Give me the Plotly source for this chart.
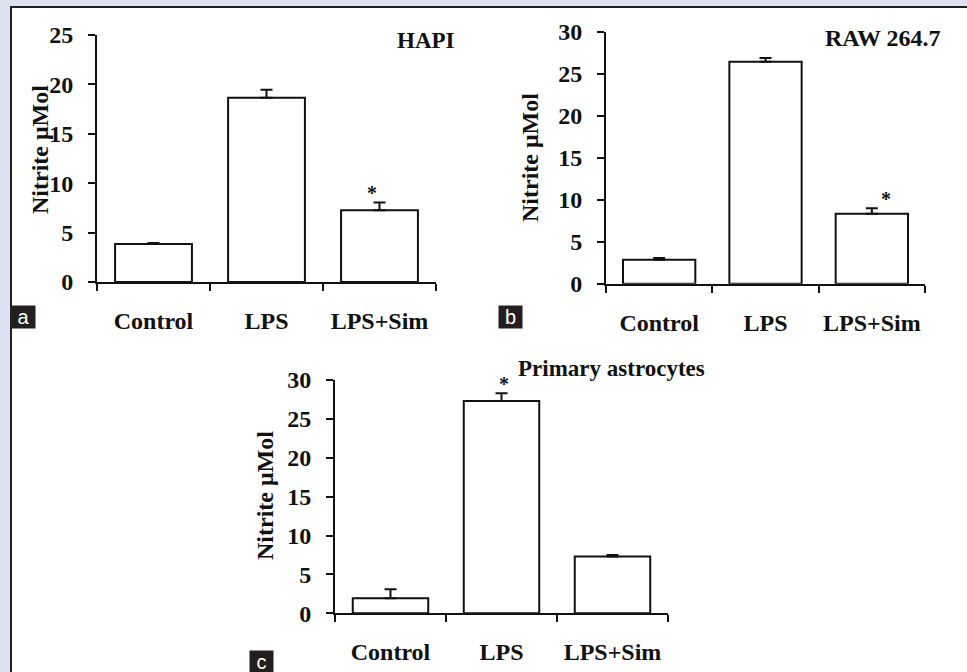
import plotly.graph_objects as go

W, H = 967, 672

categories = ["Control", "LPS", "LPS+Sim"]

hapi_values = [3.85, 18.65, 7.25]
hapi_errors = [0.1, 0.8, 0.8]
raw_values = [2.85, 26.45, 8.35]
raw_errors = [0.2, 0.45, 0.65]
astro_values = [1.95, 27.3, 7.3]
astro_errors = [1.15, 1.0, 0.2]

hapi_ticks = [0, 5, 10, 15, 20, 25]
raw_ticks = [0, 5, 10, 15, 20, 25, 30]
astro_ticks = [0, 5, 10, 15, 20, 25, 30]

panel_titles = ["HAPI", "RAW 264.7", "Primary astrocytes"]
panel_letters = ["a", "b", "c"]
star_index = [2, 2, 1]
y_title = "Nitrite μMol"

SERIF = "Liberation Serif"
INK = "#111111"


def px_x(p):
    return p / W


def px_y(p):
    return 1 - p / H


panels = [
    dict(values=hapi_values, errors=hapi_errors, ticks=hapi_ticks,
         xdom=[px_x(97), px_x(436)], ydom=[px_y(282), px_y(35)],
         title_pos=(457, 40, "right", 23), ytitle_pos=(40, 150),
         letter_pos=(11, 305), star_shift=-8),
    dict(values=raw_values, errors=raw_errors, ticks=raw_ticks,
         xdom=[px_x(606), px_x(925)], ydom=[px_y(283.7), px_y(32)],
         title_pos=(943, 38, "right", 24), ytitle_pos=(530, 158),
         letter_pos=(498, 305), star_shift=14),
    dict(values=astro_values, errors=astro_errors, ticks=astro_ticks,
         xdom=[px_x(335), px_x(668)], ydom=[px_y(613.3), px_y(380)],
         title_pos=(516, 368, "left", 23), ytitle_pos=(265, 496),
         letter_pos=(249, 650), star_shift=2),
]

fig = go.Figure()
annotations = []
shapes = []

for i, p in enumerate(panels):
    n = "" if i == 0 else str(i + 1)
    xa, ya = "x" + n, "y" + n
    fig.add_trace(go.Bar(
        x=categories, y=p["values"], xaxis=xa, yaxis=ya,
        width=0.68,
        marker=dict(color="white", line=dict(color=INK, width=2)),
        error_y=dict(type="data", symmetric=False, array=p["errors"],
                     arrayminus=[0] * len(p["errors"]), color=INK,
                     thickness=2, width=6),
        showlegend=False, hoverinfo="skip",
    ))
    tick_font = dict(family=SERIF, size=24, color=INK, weight="bold")
    fig.update_layout({
        "xaxis" + n: dict(
            domain=p["xdom"], anchor=ya, type="category", range=[-0.5, 2.5],
            tickson="boundaries", ticks="outside", ticklen=7, tickwidth=2,
            tickcolor=INK, showline=True, linewidth=2, linecolor=INK,
            showgrid=False, zeroline=False, tickfont=tick_font, tickangle=0,
            ticklabelstandoff=16, fixedrange=True, automargin=False,
        ),
        "yaxis" + n: dict(
            domain=p["ydom"], anchor=xa, range=[0, p["ticks"][-1]],
            tickvals=p["ticks"], ticks="outside", ticklen=7, tickwidth=2,
            tickcolor=INK, showline=True, linewidth=2, linecolor=INK,
            showgrid=False, zeroline=False, tickfont=tick_font,
            ticklabelstandoff=10, fixedrange=True, automargin=False,
        ),
    })
    # significance star
    k = star_index[i]
    annotations.append(dict(
        x=categories[k], y=p["values"][k] + p["errors"][k], xref=xa, yref=ya,
        text="*", showarrow=False, yanchor="bottom", yshift=-4,
        xshift=p["star_shift"],
        font=dict(family=SERIF, size=20, color=INK, weight="bold"),
    ))
    # panel title
    tx, ty, anc, fs = p["title_pos"]
    annotations.append(dict(
        x=px_x(tx), y=px_y(ty), xref="paper", yref="paper", text=panel_titles[i],
        showarrow=False, xanchor=anc, yanchor="middle",
        font=dict(family=SERIF, size=fs, color=INK, weight="bold"),
    ))
    # y axis title
    yx, yy = p["ytitle_pos"]
    annotations.append(dict(
        x=px_x(yx), y=px_y(yy), xref="paper", yref="paper", text=y_title,
        showarrow=False, textangle=-90, xanchor="center", yanchor="middle",
        font=dict(family=SERIF, size=24, color=INK, weight="bold"),
    ))
    # panel letter
    lx, ly = p["letter_pos"]
    annotations.append(dict(
        x=px_x(lx), y=px_y(ly), xref="paper", yref="paper",
        text=panel_letters[i], showarrow=False, xanchor="left", yanchor="top",
        bgcolor="#231f20", width=19, height=18, borderpad=2, valign="middle",
        font=dict(family="Liberation Sans", size=20, color="white"),
    ))

# page frame (lavender band + dark rule on the left and top)
shapes += [
    dict(type="rect", xref="paper", yref="paper", x0=0, x1=px_x(10), y0=0, y1=1,
         fillcolor="#dde2f0", line=dict(width=0), layer="below"),
    dict(type="rect", xref="paper", yref="paper", x0=0, x1=1, y0=px_y(6), y1=1,
         fillcolor="#dde2f0", line=dict(width=0), layer="below"),
    dict(type="line", xref="paper", yref="paper", x0=px_x(11), x1=px_x(11),
         y0=0, y1=px_y(6), line=dict(color="#222222", width=2)),
    dict(type="line", xref="paper", yref="paper", x0=px_x(10), x1=1,
         y0=px_y(7), y1=px_y(7), line=dict(color="#222222", width=2)),
]

fig.update_layout(
    width=W, height=H, margin=dict(l=0, r=0, t=0, b=0, autoexpand=False),
    paper_bgcolor="white", plot_bgcolor="rgba(0,0,0,0)",
    annotations=annotations, shapes=shapes, bargap=0.32,
)

fig.write_html(
    "out.html",
    config={"displayModeBar": False},
    post_script="document.body.style.margin='0';document.body.style.overflow='hidden';",
)
